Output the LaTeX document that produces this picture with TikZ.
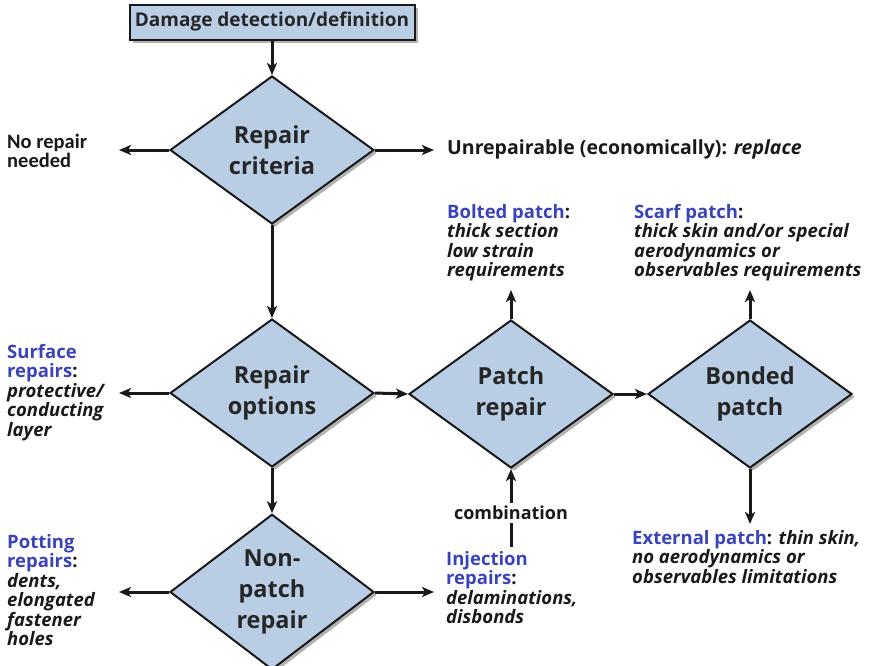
\documentclass[tikz,border=0pt]{standalone}
\usepackage{fontspec}
\setmainfont{Open Sans}
\newfontfamily\narrowfont{Carlito}
\usetikzlibrary{shapes.geometric,shadows,arrows.meta}
\definecolor{dfill}{RGB}{185,205,229}
\definecolor{dblue}{RGB}{58,68,185}
\definecolor{dline}{RGB}{25,25,25}
\tikzset{
  dia/.style={diamond, draw=dline, line width=2pt, fill=dfill, minimum width=204pt, minimum height=148pt, inner sep=0pt, align=center, font=\bfseries\fontsize{23.5}{31}\selectfont, text=black!85,
    drop shadow={shadow xshift=3pt, shadow yshift=-3pt, fill=black, opacity=0.3}},
  topbox/.style={rectangle, draw=dline, line width=2pt, fill=dfill, minimum width=285pt, minimum height=35pt, inner sep=0pt, font=\bfseries\fontsize{19}{20}\selectfont, text=black!85,
    drop shadow={shadow xshift=3pt, shadow yshift=-3pt, fill=black, opacity=0.3}},
  lbl/.style={align=left, inner sep=0pt, font=\fontsize{18.5}{19.5}\selectfont, text=black!90},
  arr/.style={-{Stealth[length=12pt,width=10pt,inset=3pt]}, line width=3pt, draw=black!90},
}
\newcommand{\bl}[1]{{\color{dblue}\bfseries #1}}
\newcommand{\itb}[1]{{\bfseries\itshape #1}}
\begin{document}
\begin{tikzpicture}[x=1pt,y=-1pt]
\useasboundingbox (0,0) rectangle (881,665);
% nodes
\node[topbox] (top) at (272,22) {Damage detection/definition};
\node[dia] (crit) at (272,150) {Repair\\criteria};
\node[dia] (opt) at (272,393) {Repair\\options};
\node[dia] (patch) at (511,394) {Patch\\repair};
\node[dia] (bond) at (750,394) {Bonded\\patch};
\node[dia] (non) at (272,592) {Non-\\patch\\repair};
% labels
\node[lbl, anchor=west, font=\narrowfont\bfseries\fontsize{20.5}{17}\selectfont] (norep) at (7,151) {No repair\\needed};
\node[lbl, anchor=west, font=\bfseries\fontsize{19.5}{20}\selectfont] (unrep) at (447,149) {Unrepairable (economically): \itb{replace}};
\node[lbl, anchor=north west] (surf) at (7,344) {\bl{Surface}\\\bl{repairs}\textbf{:}\\\itb{protective/}\\\itb{conducting}\\\itb{layer}};
\node[lbl, anchor=north west] (pot) at (7,534) {\bl{Potting}\\\bl{repairs}\textbf{:}\\\itb{dents,}\\\itb{elongated}\\\itb{fastener}\\\itb{holes}};
\node[lbl, anchor=north west] (bolt) at (447,204) {\bl{Bolted patch}\textbf{:}\\\itb{thick section}\\\itb{low strain}\\\itb{requirements}};
\node[lbl, anchor=north west] (scarf) at (634,204) {\bl{Scarf patch}\textbf{:}\\\itb{thick skin and/or special}\\\itb{aerodynamics or}\\\itb{observables requirements}};
\node[lbl, anchor=north west] (inj) at (446,551) {\bl{Injection}\\\bl{repairs}\textbf{:}\\\itb{delaminations,}\\\itb{disbonds}};
\node[lbl, anchor=north west] (ext) at (632,530) {\bl{External patch}\textbf{: }\itb{thin skin,}\\\itb{no aerodynamics or}\\\itb{observables limitations}};
\node[lbl, font=\bfseries\fontsize{18}{20}\selectfont, inner sep=3pt] (comb) at (511,513) {combination};
% free ends
\coordinate (c1) at (119,150);
\coordinate (c2) at (434,150);
\coordinate (c3) at (119,393);
\coordinate (c4) at (511,290);
\coordinate (c5) at (750,290);
\coordinate (c6) at (750,524);
\coordinate (c7) at (119,592);
\coordinate (c8) at (434,592);
\coordinate (c9) at (511,547);
% connectors
\draw[arr] (top) -- (crit.north);
\draw[arr] (crit.west) -- (c1);
\draw[arr] (crit.east) -- (c2);
\draw[arr] (crit.south) -- (opt.north);
\draw[arr] (opt.west) -- (c3);
\draw[arr] (opt.east) -- (patch.west);
\draw[arr] (opt.south) -- (non.north);
\draw[arr] (patch.north) -- (c4);
\draw[arr] (bond.north) -- (c5);
\draw[arr] (patch.east) -- (bond.west);
\draw[arr] (bond.south) -- (c6);
\draw[arr] (non.west) -- (c7);
\draw[arr] (non.east) -- (c8);
\draw[line width=3pt, black!90] (c9) -- (comb.south);
\draw[arr] (comb.north) -- (patch.south);
\end{tikzpicture}
\end{document}
